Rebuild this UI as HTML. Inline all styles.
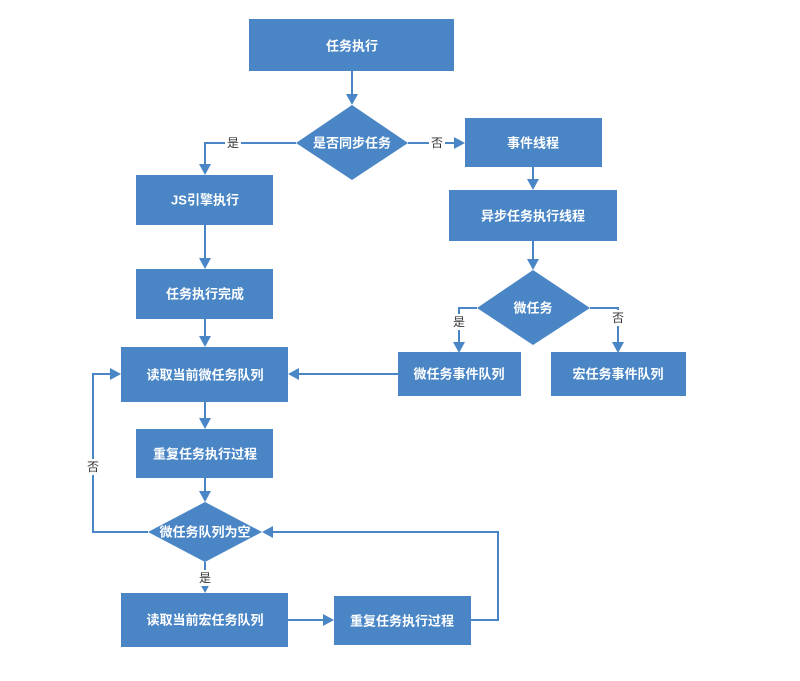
<!DOCTYPE html>
<html><head><meta charset="utf-8"><style>
html,body{margin:0;padding:0;background:#fff;}
svg{display:block}
.b{fill:#4a86c6}
.t{fill:#fff;font-family:"Liberation Sans","Noto Sans CJK SC",sans-serif;font-size:13px;font-weight:bold;text-anchor:middle;dominant-baseline:central}
.l{fill:#333;font-family:"Liberation Sans","Noto Sans CJK SC",sans-serif;font-size:12px;text-anchor:middle;dominant-baseline:central}
.c{stroke:#4a86c6;stroke-width:2;fill:none}
.a{fill:#4a86c6}
</style></head><body>
<svg width="800" height="681" viewBox="0 0 800 681" xmlns="http://www.w3.org/2000/svg">
<!-- connectors -->
<path class="c" d="M352 71V100"/><polygon class="a" points="346,94 358,94 352,105"/>
<path class="c" d="M296 143H205V170"/><polygon class="a" points="199,164 211,164 205,175"/>
<path class="c" d="M408 143H460"/><polygon class="a" points="454,137 454,149 465,143"/>
<path class="c" d="M205 225V264"/><polygon class="a" points="199,258 211,258 205,269"/>
<path class="c" d="M205 319V342"/><polygon class="a" points="199,336 211,336 205,347"/>
<path class="c" d="M533 167V185"/><polygon class="a" points="527,179 539,179 533,190"/>
<path class="c" d="M533 241V265"/><polygon class="a" points="527,259 539,259 533,270"/>
<path class="c" d="M477 308H459V348"/><polygon class="a" points="453,342 465,342 459,353"/>
<path class="c" d="M590 308H618V348"/><polygon class="a" points="612,342 624,342 618,353"/>
<path class="c" d="M398 374H293"/><polygon class="a" points="299,368 299,380 288,374"/>
<path class="c" d="M205 402V424"/><polygon class="a" points="199,418 211,418 205,429"/>
<path class="c" d="M205 478V497"/><polygon class="a" points="199,491 211,491 205,502"/>
<path class="c" d="M148 532H93V374H116"/><polygon class="a" points="110,368 110,380 121,374"/>
<path class="c" d="M205 562V588"/><polygon class="a" points="199,582 211,582 205,593"/>
<path class="c" d="M288 620H329"/><polygon class="a" points="323,614 323,626 334,620"/>
<path class="c" d="M471 620H498V532H267"/><polygon class="a" points="273,526 273,538 262,532"/>
<!-- label backgrounds -->
<rect x="225" y="135" width="16" height="16" fill="#fff"/><text class="l" x="233" y="143">是</text>
<rect x="429" y="135" width="16" height="16" fill="#fff"/><text class="l" x="437" y="143">否</text>
<rect x="451" y="314" width="16" height="16" fill="#fff"/><text class="l" x="459" y="322">是</text>
<rect x="610" y="310" width="16" height="16" fill="#fff"/><text class="l" x="618" y="318">否</text>
<rect x="85" y="459" width="16" height="16" fill="#fff"/><text class="l" x="93" y="467">否</text>
<rect x="197" y="570" width="16" height="16" fill="#fff"/><text class="l" x="205" y="578">是</text>
<!-- nodes -->
<rect class="b" x="249" y="19" width="205" height="52"/><text class="t" x="352" y="46">任务执行</text>
<polygon class="b" points="352,105 408,143 352,180 296,143"/><text class="t" x="352" y="143">是否同步任务</text>
<rect class="b" x="136" y="175" width="137" height="50"/><text class="t" x="205" y="200">JS引擎执行</text>
<rect class="b" x="136" y="269" width="137" height="50"/><text class="t" x="205" y="294">任务执行完成</text>
<rect class="b" x="465" y="118" width="137" height="49"/><text class="t" x="533" y="143">事件线程</text>
<rect class="b" x="449" y="190" width="168" height="51"/><text class="t" x="533" y="216">异步任务执行线程</text>
<polygon class="b" points="533,270 590,308 533,345 477,308"/><text class="t" x="533" y="308">微任务</text>
<rect class="b" x="398" y="352" width="123" height="44"/><text class="t" x="459" y="374">微任务事件队列</text>
<rect class="b" x="551" y="352" width="135" height="44"/><text class="t" x="618" y="374">宏任务事件队列</text>
<rect class="b" x="121" y="347" width="167" height="55"/><text class="t" x="205" y="375">读取当前微任务队列</text>
<rect class="b" x="136" y="429" width="137" height="49"/><text class="t" x="205" y="454">重复任务执行过程</text>
<polygon class="b" points="205,502 262,532 205,562 148,532"/><text class="t" x="205" y="532">微任务队列为空</text>
<rect class="b" x="121" y="593" width="167" height="54"/><text class="t" x="205" y="620">读取当前宏任务队列</text>
<rect class="b" x="334" y="596" width="137" height="49"/><text class="t" x="402" y="621">重复任务执行过程</text>
</svg>
</body></html>
